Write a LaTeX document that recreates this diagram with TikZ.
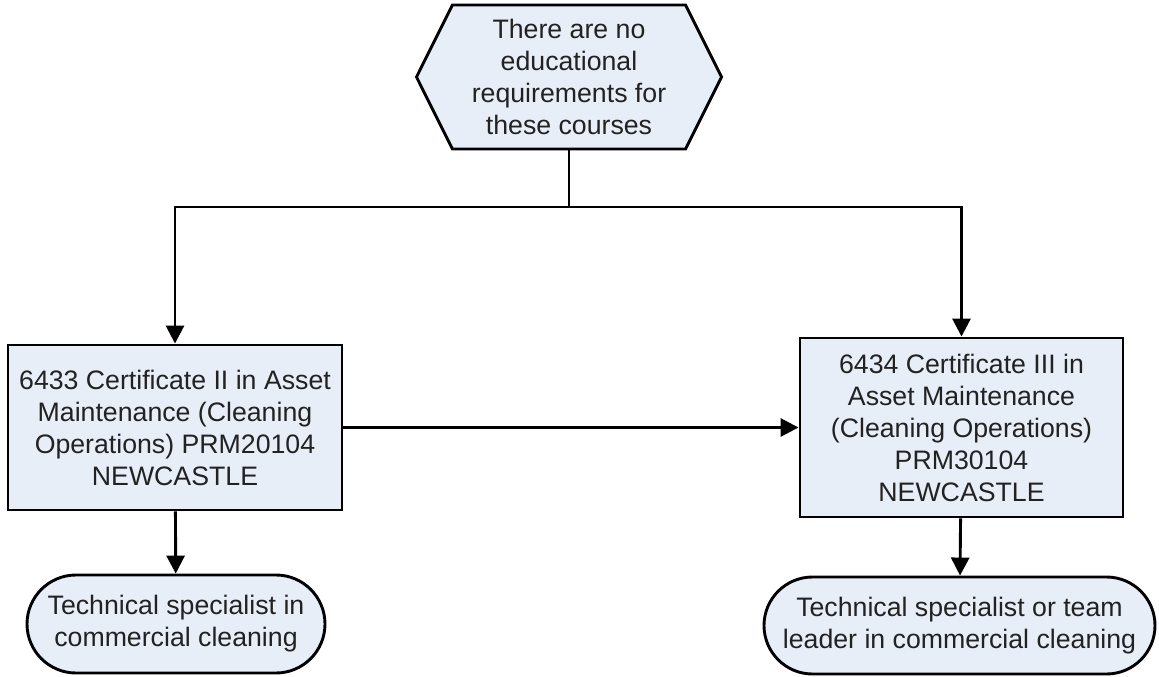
\documentclass[tikz,border=0pt]{standalone}
\usepackage{fontspec}
\setmainfont{Liberation Sans}
\usetikzlibrary{arrows.meta,shapes.symbols,shapes.misc}
\definecolor{boxfill}{HTML}{E8EEF8}
\definecolor{inkgray}{HTML}{222222}

\begin{document}
\begin{tikzpicture}[x=1pt,y=-1pt,>={Triangle[length=18pt,width=18pt]},
  line width=2.9pt,font=\fontsize{26.7}{32}\selectfont,
  hexbox/.style={draw,fill=boxfill,text=inkgray,align=center,inner sep=0pt,
    shape=signal,signal to=east and west,signal pointer angle=127,
    minimum width=305,minimum height=144},
  coursebox/.style={draw,fill=boxfill,text=inkgray,align=center,inner sep=0pt},
  jobbox/.style={draw,fill=boxfill,text=inkgray,align=center,inner sep=0pt,
    rounded rectangle}]
  \useasboundingbox (0,0) rectangle (1159,677);
  % entry requirement
  \node[hexbox] (entry) at (569,77) {There are no\\educational\\requirements for\\these courses};
  \coordinate (split) at (569,207);
  % the two certificates
  \node[coursebox,minimum width=334,minimum height=165] (certtwo) at (175,427.5)
    {6433 Certificate II in Asset\\Maintenance (Cleaning\\Operations) PRM20104\\NEWCASTLE};
  \node[coursebox,minimum width=323,minimum height=179] (certthree) at (961.5,427.5)
    {6434 Certificate III in\\Asset Maintenance\\(Cleaning Operations)\\PRM30104\\NEWCASTLE};
  % outcomes
  \node[jobbox,minimum width=298,minimum height=98] (jobtwo) at (176,624)
    {Technical specialist in\\commercial cleaning};
  \node[jobbox,minimum width=391,minimum height=97] (jobthree) at (959.5,625.5)
    {Technical specialist or team\\leader in commercial cleaning};
  % connectors
  \draw (entry.south) -- (split);
  \draw[->] (split) -| (certtwo.north);
  \draw[->] (split) -| (certthree.north);
  \draw[->] (certtwo) -- (certthree);
  \draw[->] (certtwo) -- (jobtwo);
  \draw[->] (certthree) -- (jobthree);
\end{tikzpicture}
\end{document}
